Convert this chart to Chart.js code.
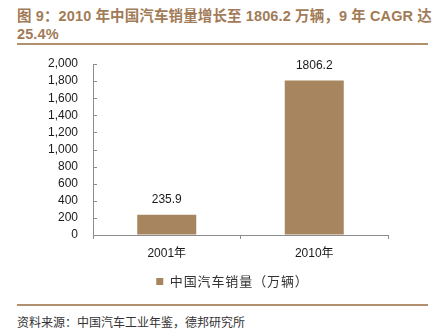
<!DOCTYPE html>
<html>
<head>
<meta charset="utf-8">
<script src="https://cdn.jsdelivr.net/npm/chart.js@4.4.1/dist/chart.umd.min.js"></script>
<style>
  html, body { margin: 0; padding: 0; background: #fff; }
  #wrap { position: relative; width: 441px; height: 333px; overflow: hidden; }
  #title {
    position: absolute; left: 17px; top: 8px; width: 424px;
    font: bold 14.5px "Liberation Sans", "Noto Sans CJK SC", sans-serif;
    line-height: 17.5px; color: #a27b57; white-space: nowrap;
    letter-spacing: 0.12px;
  }
  .rule { position: absolute; left: 17px; width: 411px; height: 2px; background: #b0906f; }
  #source {
    position: absolute; left: 17px; top: 314px;
    font: 12px "Noto Sans CJK SC", sans-serif; line-height: 16px; color: #333;
  }
  canvas { position: absolute; left: 0; top: 0; }
</style>
</head>
<body>
<div id="wrap">
  <div id="title">图 9：2010 年中国汽车销量增长至 1806.2 万辆，9 年 CAGR 达<br>25.4%</div>
  <div class="rule" style="top:43px"></div>
  <canvas id="chart" width="441" height="300"></canvas>
  <div class="rule" style="top:304px"></div>
  <div id="source">资料来源：中国汽车工业年鉴，德邦研究所</div>
</div>
<script>
const categories = ['2001年', '2010年'];
const salesValues = [235.9, 1806.2];
const seriesName = '中国汽车销量（万辆）';
const yTicks = [0, 200, 400, 600, 800, 1000, 1200, 1400, 1600, 1800, 2000];

const barColor = '#a6855f';
const axisColor = '#8c8c8c';

// Small tick marks on the value axis, pointing into the plot area
const innerTicks = {
  id: 'innerTicks',
  afterDatasetsDraw(chart) {
    const y = chart.scales.y;
    const ctx = chart.ctx;
    ctx.save();
    ctx.strokeStyle = axisColor;
    ctx.lineWidth = 1;
    y.ticks.forEach((t, i) => {
      const py = Math.round(y.getPixelForTick(i)) + 0.5;
      ctx.beginPath();
      ctx.moveTo(y.right, py);
      ctx.lineTo(y.right + 4, py);
      ctx.stroke();
    });
    ctx.restore();
  }
};

// Value labels above each bar
const barLabels = {
  id: 'barLabels',
  afterDatasetsDraw(chart) {
    const ctx = chart.ctx;
    const meta = chart.getDatasetMeta(0);
    ctx.save();
    ctx.font = '12px "Liberation Sans", Arial, sans-serif';
    ctx.fillStyle = '#1a1a1a';
    ctx.textAlign = 'center';
    ctx.textBaseline = 'middle';
    meta.data.forEach((bar, i) => {
      ctx.fillText(String(salesValues[i]), bar.x, bar.y - 15);
    });
    ctx.restore();
  }
};

// Legend drawn a little to the right, with spaced-out characters
const legendStyle = {
  id: 'legendStyle',
  afterLayout(chart) {
    const lg = chart.legend;
    if (!lg || lg._styled) return;
    const orig = lg.draw;
    lg.draw = function () {
      const ctx = this.ctx;
      ctx.save();
      ctx.translate(34, 0);
      ctx.letterSpacing = '0.9px';
      orig.apply(this, arguments);
      ctx.restore();
    };
    lg._styled = true;
  }
};

new Chart(document.getElementById('chart'), {
  type: 'bar',
  data: {
    labels: categories,
    datasets: [{
      label: seriesName,
      data: salesValues,
      backgroundColor: barColor,
      borderWidth: 0,
      barPercentage: 0.4,
      categoryPercentage: 1.0
    }]
  },
  options: {
    responsive: false,
    animation: false,
    devicePixelRatio: 1,
    layout: { padding: { left: 0, right: 53, top: 64, bottom: 2 } },
    plugins: {
      tooltip: { enabled: false },
      legend: {
        position: 'bottom',
        labels: {
          boxWidth: 7, boxHeight: 7, padding: 8,
          color: '#333',
          font: { family: '"Noto Sans CJK SC", sans-serif', size: 13 }
        }
      }
    },
    scales: {
      x: {
        offset: true,
        grid: {
          offset: true, drawOnChartArea: false, drawTicks: true,
          tickLength: 4, color: axisColor
        },
        border: { color: axisColor, width: 1 },
        ticks: {
          color: '#1a1a1a', padding: 7,
          font: { family: '"Liberation Sans", "Noto Sans CJK SC", sans-serif', size: 12 }
        },
        afterFit(scale) { scale.height = 32; }
      },
      y: {
        min: 0, max: 2000,
        afterBuildTicks(scale) { scale.ticks = yTicks.map(v => ({ value: v })); },
        grid: { drawOnChartArea: false, drawTicks: false },
        border: { color: axisColor, width: 1 },
        ticks: {
          autoSkip: false,
          color: '#1a1a1a', padding: 15,
          font: { family: '"Liberation Sans", Arial, sans-serif', size: 12 },
          callback: v => v.toLocaleString('en-US')
        },
        afterFit(scale) { scale.width = 93; }
      }
    }
  },
  plugins: [innerTicks, barLabels, legendStyle]
});
</script>
</body>
</html>
